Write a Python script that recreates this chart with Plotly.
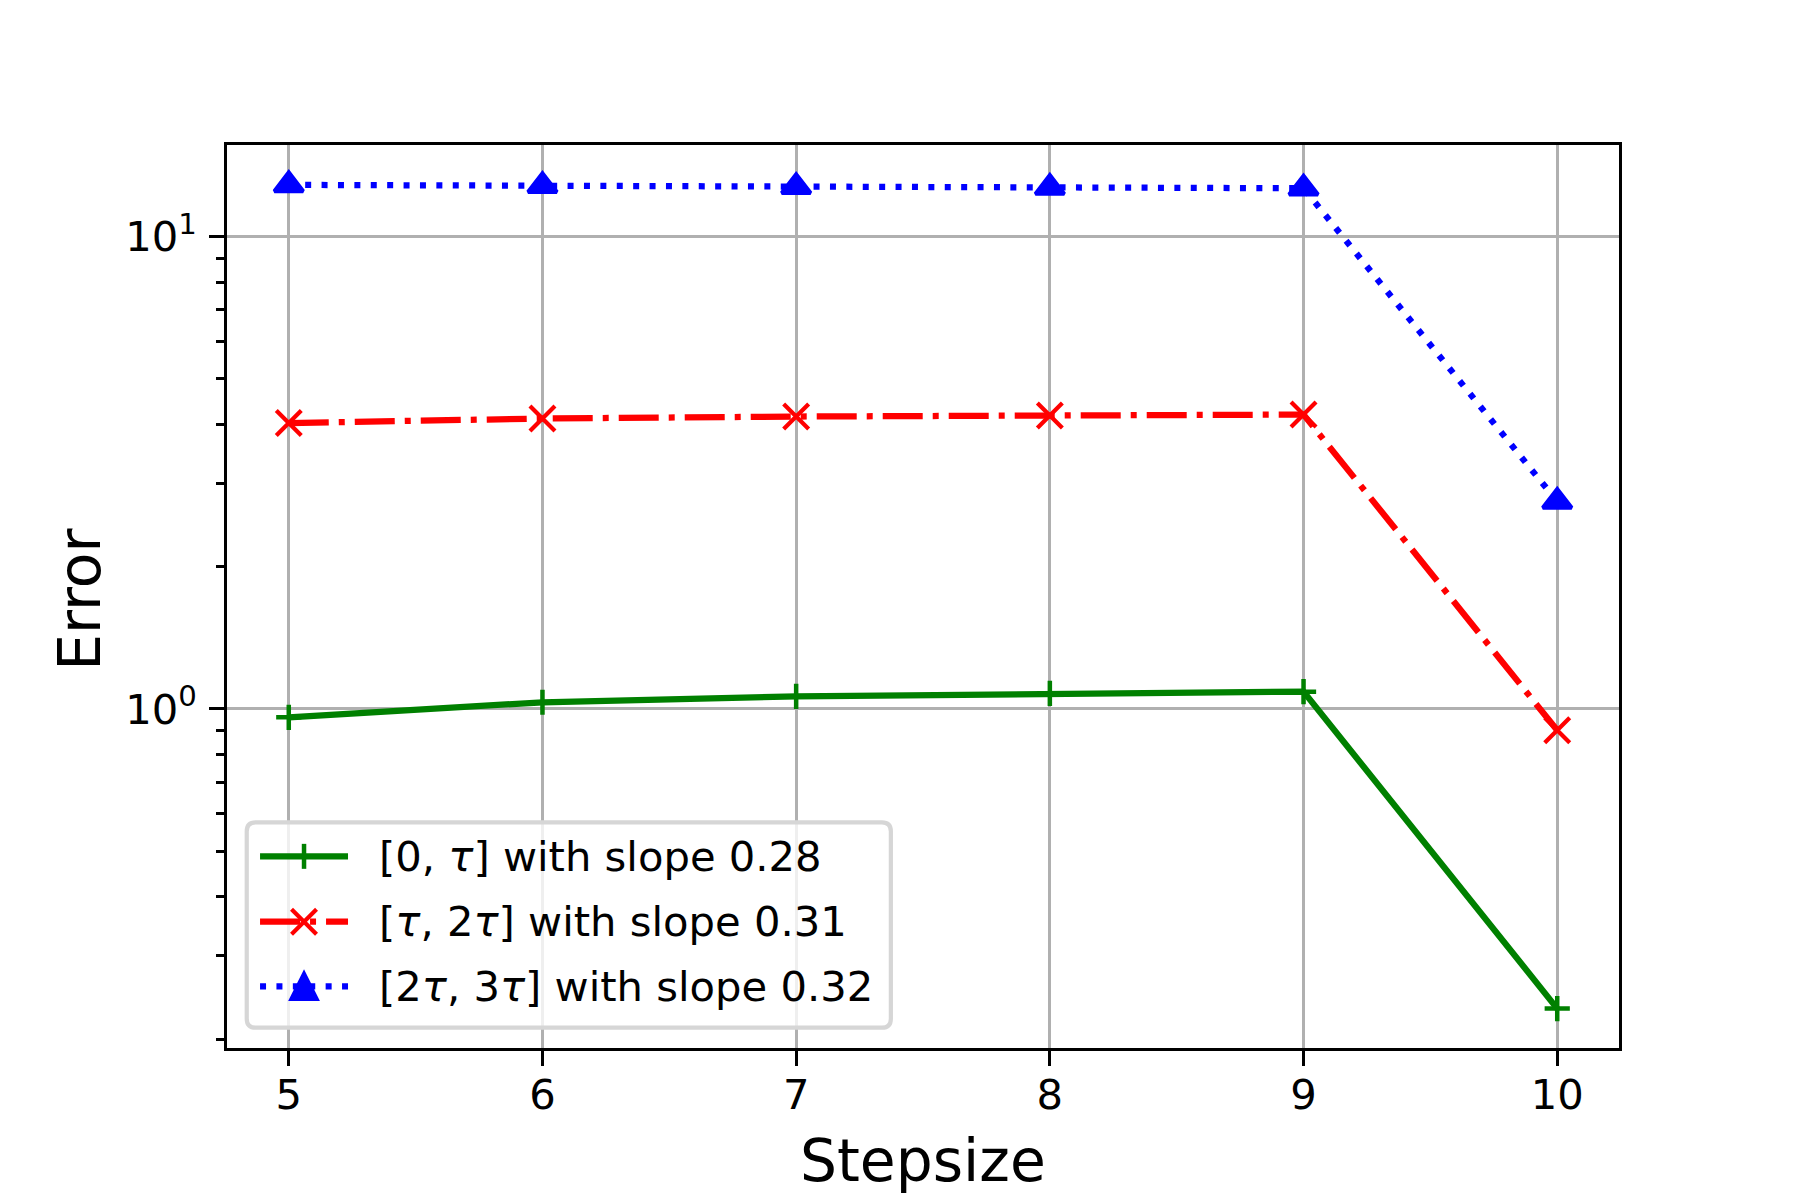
import plotly.graph_objects as go

# step sizes on x, error per interval on y (log scale)
steps = [5, 6, 7, 8, 9, 10]
err_0_tau = [0.960, 1.033, 1.063, 1.079, 1.088, 0.232]
err_tau_2tau = [4.03, 4.12, 4.16, 4.18, 4.20, 0.901]
err_2tau_3tau = [12.87, 12.81, 12.75, 12.70, 12.66, 2.75]

names = [
    "[0, <i>τ</i>] with slope 0.28",
    "[<i>τ</i>, 2<i>τ</i>] with slope 0.31",
    "[2<i>τ</i>, 3<i>τ</i>] with slope 0.32",
]
colors = ['#008000', '#ff0000', '#0000ff']

y_major = [1, 10]
y_major_text = ["10<sup>0</sup>", "10<sup>1</sup>"]
y_minor = [0.2, 0.3, 0.4, 0.5, 0.6, 0.7, 0.8, 0.9, 2, 3, 4, 5, 6, 7, 8, 9]

FONT = "DejaVu Sans"
LW = 6.25
DASHDOT = '40px,10px,6px,10px'
DOT = '6px,10.4px'

# page has an 8px body margin, so the figure is a bit smaller than the window
OFF = 8
W, H = 1800 - OFF, 1200 - OFF
# plot area in window pixels (spine centres)
L, R, T, B = 225.3, 1621.0, 143.7, 1050.0
pw, ph = R - L, B - T
# plotly draws the frame lines just outside the plot area -> pull area in a bit
S = 1.65
x_unit = pw / 5.5          # px per step
y_dec = ph / 1.9189        # px per decade
x_range = [4.75 + S / x_unit, 10.25 - S / x_unit]
y_range = [-0.7214 + S / y_dec, 1.1975 - S / y_dec]


def px(x):
    return (x - L - S) / (pw - 2 * S)


def py(y):
    return (B - S - y) / (ph - 2 * S)


fig = go.Figure()

fig.add_trace(go.Scatter(x=steps, y=err_0_tau, mode='lines+markers', name=names[0],
                         line=dict(color=colors[0], width=LW),
                         marker=dict(symbol='cross-thin', size=18, color=colors[0],
                                     line=dict(color=colors[0], width=4.5))))

fig.add_trace(go.Scatter(x=steps, y=err_tau_2tau, mode='lines+markers', name=names[1],
                         line=dict(color=colors[1], width=LW, dash=DASHDOT),
                         marker=dict(symbol='x-thin', size=25, color=colors[1],
                                     line=dict(color=colors[1], width=4.2))))

fig.add_trace(go.Scatter(x=steps, y=err_2tau_3tau, mode='lines+markers', name=names[2],
                         line=dict(color=colors[2], width=LW, dash=DOT),
                         marker=dict(symbol='triangle-up', size=25, color=colors[2],
                                     line=dict(color=colors[2], width=4))))

# legend frame (rounded, like matplotlib)
fx0, fx1 = px(246.7), px(891)
fy0, fy1 = py(1028), py(822.7)
rx, ry = 9 / pw, 9 / ph
frame = (f"M {fx0 + rx},{fy0} L {fx1 - rx},{fy0} Q {fx1},{fy0} {fx1},{fy0 + ry} "
         f"L {fx1},{fy1 - ry} Q {fx1},{fy1} {fx1 - rx},{fy1} "
         f"L {fx0 + rx},{fy1} Q {fx0},{fy1} {fx0},{fy1 - ry} "
         f"L {fx0},{fy0 + ry} Q {fx0},{fy0} {fx0 + rx},{fy0} Z")
fig.add_shape(type='path', path=frame, xref='paper', yref='paper', layer='above',
              fillcolor='rgba(255,255,255,0.8)', line=dict(color='#d6d6d6', width=4.2))

# legend handles and labels
rows = [856.7, 922.0, 986.7]
h0, h1, hc, tx = 260, 348, 304, 377
dashes = ['solid', DASHDOT, DOT]
m = 12.5
for i, yc in enumerate(rows):
    c = colors[i]
    fig.add_shape(type='line', xref='paper', yref='paper', layer='above',
                  x0=px(h0), x1=px(h1), y0=py(yc), y1=py(yc),
                  line=dict(color=c, width=LW, dash=dashes[i]))
    if i == 0:
        fig.add_shape(type='line', xref='paper', yref='paper', layer='above',
                      x0=px(hc), x1=px(hc), y0=py(yc - m), y1=py(yc + m),
                      line=dict(color=c, width=4.5))
    elif i == 1:
        for s in (1, -1):
            fig.add_shape(type='line', xref='paper', yref='paper', layer='above',
                          x0=px(hc - m), x1=px(hc + m), y0=py(yc - s * m), y1=py(yc + s * m),
                          line=dict(color=c, width=4.2))
    else:
        tri = (f"M {px(hc)},{py(yc - m)} L {px(hc - m)},{py(yc + m)} "
               f"L {px(hc + m)},{py(yc + m)} Z")
        fig.add_shape(type='path', path=tri, xref='paper', yref='paper', layer='above',
                      fillcolor=c, line=dict(color=c, width=4.2))
    fig.add_annotation(text=names[i], xref='paper', yref='paper', x=px(tx), y=py(yc),
                       xanchor='left', yanchor='middle', showarrow=False,
                       font=dict(family=FONT, size=41.7, color='black'))

# axis titles
fig.add_annotation(text='Stepsize', xref='paper', yref='paper', x=px((L + R) / 2),
                   y=py(1161), xanchor='center', yanchor='middle', showarrow=False,
                   font=dict(family=FONT, size=58.3, color='black'))
fig.add_annotation(text='Error', xref='paper', yref='paper', x=px(80),
                   y=py(600), xanchor='center', yanchor='middle', showarrow=False,
                   textangle=-90, font=dict(family=FONT, size=58.3, color='black'))

fig.update_layout(
    width=W, height=H,
    margin=dict(l=L + S - OFF, r=1800 - R + S, t=T + S - OFF, b=1200 - B + S,
                autoexpand=False),
    plot_bgcolor='white', paper_bgcolor='white',
    font=dict(family=FONT, size=41.7, color='black'),
    showlegend=False,
)

fig.update_xaxes(
    range=x_range,
    tickvals=steps, ticks='outside', ticklen=14.6, tickwidth=3.3, tickcolor='black',
    ticklabelstandoff=-7,
    showline=True, linecolor='black', linewidth=3.3, mirror=True,
    showgrid=True, gridcolor='#b0b0b0', gridwidth=3.3, zeroline=False,
)

fig.update_yaxes(
    type='log', range=y_range,
    tickmode='array', tickvals=y_major, ticktext=y_major_text,
    ticks='outside', ticklen=14.6, tickwidth=3.3, tickcolor='black',
    ticklabelstandoff=4,
    minor=dict(tickmode='array', tickvals=y_minor, ticks='outside', ticklen=8.3,
               tickwidth=2.5, tickcolor='black', showgrid=False),
    showline=True, linecolor='black', linewidth=3.3, mirror=True,
    showgrid=True, gridcolor='#b0b0b0', gridwidth=3.3, zeroline=False,
)

fig.write_html("out.html")
